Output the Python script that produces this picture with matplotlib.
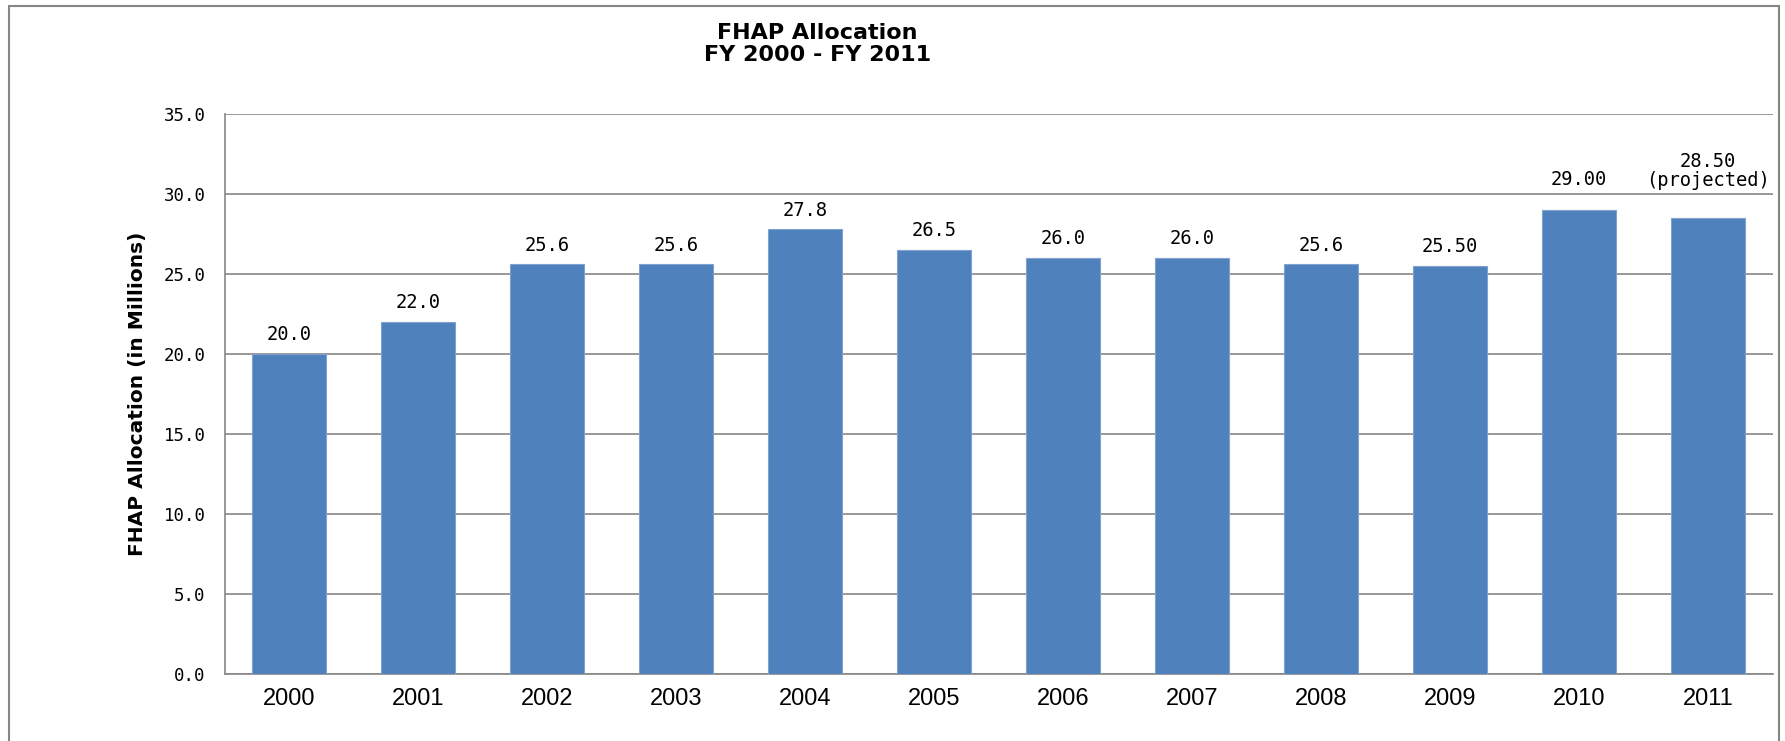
import matplotlib
matplotlib.use("Agg")
import matplotlib.pyplot as plt
from matplotlib.patches import Rectangle

# ---------------- DATA ----------------
years = ["2000", "2001", "2002", "2003", "2004", "2005",
         "2006", "2007", "2008", "2009", "2010", "2011"]
allocation = [20.0, 22.0, 25.6, 25.6, 27.8, 26.5,
              26.0, 26.0, 25.6, 25.5, 29.0, 28.5]
bar_labels = ["20.0", "22.0", "25.6", "25.6", "27.8", "26.5",
              "26.0", "26.0", "25.6", "25.50", "29.00", "28.50\n(projected)"]
y_ticks = [0, 5, 10, 15, 20, 25, 30, 35]

bar_color = "#4F81BD"
grid_color = "#868686"
narrow = ["Liberation Sans Narrow", "Liberation Sans", "DejaVu Sans"]

# ---------------- FIGURE ----------------
fig = plt.figure(figsize=(17.85, 7.41), dpi=100)
ax = fig.add_axes([0.126, 0.0904, 0.867, 0.7556])

x = range(len(years))
bars = ax.bar(x, allocation, width=0.574, color=bar_color,
              edgecolor="#7FA3D0", linewidth=0.8, zorder=3)

# labels: the last two sit a bit higher, like in the original sheet
label_pad = [7] * 10 + [15, 20]
for b, lab, pad in zip(bars, bar_labels, label_pad):
    ax.annotate(lab, (b.get_x() + b.get_width() / 2, b.get_height()),
                xytext=(0, pad), textcoords="offset points",
                ha="center", va="bottom", fontsize=13.5,
                family="DejaVu Sans Mono", linespacing=1.0)

ax.set_xlim(-0.5, len(years) - 0.5)
ax.set_ylim(0, 35)
ax.set_yticks(y_ticks)
ax.set_yticklabels([f"{v:.1f}" for v in y_ticks],
                   family="DejaVu Sans Mono", fontsize=12.5)
ax.set_xticks(list(x))
ax.set_xticklabels(years, family=narrow, fontsize=17)
ax.tick_params(axis="y", length=0, pad=14)
ax.tick_params(axis="x", length=0, pad=10)

ax.yaxis.grid(True, color=grid_color, linewidth=1.2, zorder=0)
ax.set_axisbelow(True)
for side in ("top", "right"):
    ax.spines[side].set_visible(False)
for side in ("left", "bottom"):
    ax.spines[side].set_color(grid_color)
    ax.spines[side].set_linewidth(1.2)

ax.set_ylabel("FHAP Allocation (in Millions)", fontsize=14.5,
              fontweight="bold", labelpad=12)

# title
fig.text(0.458, 0.941, "FHAP Allocation\nFY 2000 - FY 2011", ha="center",
         va="center", fontsize=16, fontweight="bold", linespacing=1.1)

# outer chart border
fig.patches.append(Rectangle((0.005, -0.01), 0.9915, 1.0025,
                             transform=fig.transFigure, fill=False,
                             edgecolor=grid_color, linewidth=1.5))

fig.savefig("out.png", dpi=100)
